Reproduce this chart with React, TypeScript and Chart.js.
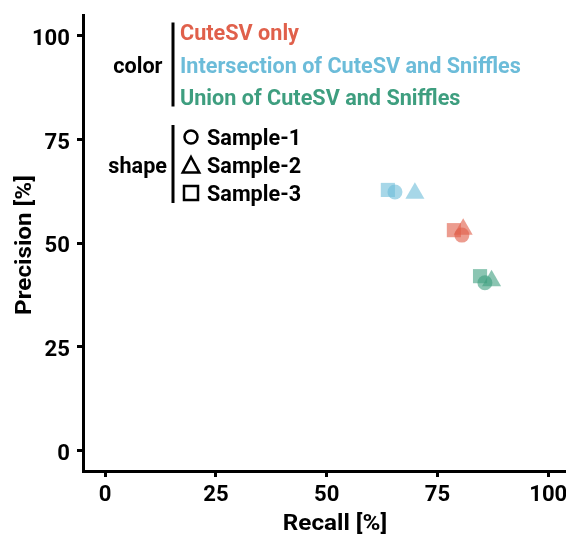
import React, { useEffect, useRef } from "react";
import { Chart, registerables } from "chart.js";

Chart.register(...registerables);

const samples = ["Sample-1", "Sample-2", "Sample-3"];
const groups = [
  "CuteSV only",
  "Intersection of CuteSV and Sniffles",
  "Union of CuteSV and Sniffles",
];
const recallCuteSV = [80.5, 80.8, 78.7];
const precisionCuteSV = [51.9, 53.3, 53.1];
const recallIntersection = [65.4, 69.9, 63.8];
const precisionIntersection = [62.3, 62.0, 62.8];
const recallUnion = [85.7, 87.2, 84.6];
const precisionUnion = [40.4, 40.9, 42.0];
const xTicks = [0, 25, 50, 75, 100];
const yTicks = [0, 25, 50, 75, 100];
const xTitle = "Recall [%]";
const yTitle = "Precision [%]";

const groupColors = ["#E0604B", "#6CBCD9", "#3E9E7F"];
const pointColors = [
  "rgba(224,96,75,0.62)",
  "rgba(108,188,217,0.6)",
  "rgba(62,158,127,0.6)",
];
const shapeStyles = ["circle", "triangle", "rect"];
const shapeRadius = [7.5, 11, 10];

const FAMILY = 'Roboto, "Liberation Sans", sans-serif';

function condense(ctx: CanvasRenderingContext2D) {
  ctx.font = `bold 22px ${FAMILY}`;
  const w = ctx.measureText("CuteSV only").width;
  return w > 0 ? 119 / w : 0.82;
}

function txt(
  ctx: CanvasRenderingContext2D,
  s: string,
  x: number,
  y: number,
  size: number,
  align: CanvasTextAlign,
  sx: number,
  color = "#000",
  rot = 0
) {
  ctx.save();
  ctx.font = `bold ${size}px ${FAMILY}`;
  ctx.fillStyle = color;
  ctx.textAlign = align;
  ctx.textBaseline = "alphabetic";
  ctx.translate(x, y);
  if (rot) ctx.rotate(rot);
  ctx.scale(sx, 1);
  ctx.fillText(s, 0, size * 0.711 * 0.5);
  ctx.restore();
}

const textPlugin = {
  id: "customText",
  afterDraw(chart: any) {
    const ctx = chart.ctx as CanvasRenderingContext2D;
    const sx = condense(ctx);
    const xs = chart.scales.x;
    const ys = chart.scales.y;
    ctx.save();
    yTicks.forEach((v) => txt(ctx, String(v), 70, ys.getPixelForValue(v) + 1.5, 22.5, "right", sx));
    xTicks.forEach((v) => txt(ctx, String(v), xs.getPixelForValue(v), 493, 22.5, "center", sx));
    txt(ctx, xTitle, 335, 522, 22, "center", sx * 1.12);
    txt(ctx, yTitle, 23, 245, 22, "center", sx * 1.12, "#000", -Math.PI / 2);
    ctx.fillStyle = "#000";
    ctx.fillRect(171.5, 22.5, 3, 84);
    ctx.fillRect(171.5, 125, 3, 78);
    txt(ctx, "color", 162.5, 65, 22, "right", sx);
    txt(ctx, "shape", 167, 165, 22, "right", sx);
    const rowsY = [32.5, 65, 97.5];
    groups.forEach((g, i) => txt(ctx, g, 180, rowsY[i], 22, "left", sx, groupColors[i]));
    const shapeY = [137, 165, 193];
    samples.forEach((s, i) => txt(ctx, s, 207, shapeY[i], 22, "left", sx));
    ctx.strokeStyle = "#000";
    ctx.lineWidth = 2.5;
    const cx = 191;
    ctx.beginPath();
    ctx.arc(cx, shapeY[0], 6.5, 0, Math.PI * 2);
    ctx.stroke();
    ctx.beginPath();
    ctx.moveTo(cx, shapeY[1] - 8);
    ctx.lineTo(cx + 8.3, shapeY[1] + 7.5);
    ctx.lineTo(cx - 8.3, shapeY[1] + 7.5);
    ctx.closePath();
    ctx.stroke();
    ctx.strokeRect(cx - 7, shapeY[2] - 7, 14, 14);
    ctx.restore();
  },
};

export default function App() {
  const ref = useRef<HTMLCanvasElement>(null);
  useEffect(() => {
    if (!ref.current) return;
    const recalls = [recallCuteSV, recallIntersection, recallUnion];
    const precisions = [precisionCuteSV, precisionIntersection, precisionUnion];
    const datasets = groups.map((g, gi) => ({
      label: g,
      data: samples.map((_, si) => ({ x: recalls[gi][si], y: precisions[gi][si] })),
      pointStyle: shapeStyles,
      pointRadius: shapeRadius,
      pointHoverRadius: shapeRadius,
      backgroundColor: pointColors[gi],
      borderColor: "rgba(0,0,0,0)",
      borderWidth: 0,
      showLine: false,
    }));
    const gridOpts = {
      display: true,
      drawOnChartArea: false,
      drawTicks: true,
      tickLength: 6,
      lineWidth: 3,
      color: "#000",
    };
    const chart = new Chart(ref.current, {
      type: "scatter",
      data: { datasets },
      plugins: [textPlugin],
      options: {
        animation: false,
        responsive: false,
        layout: { autoPadding: false, padding: { top: 15, right: 0, left: 0, bottom: 0 } },
        plugins: { legend: { display: false }, tooltip: { enabled: false } },
        scales: {
          x: {
            type: "linear",
            min: -5,
            max: 104,
            afterBuildTicks: (s: any) => {
              s.ticks = xTicks.map((v) => ({ value: v }));
            },
            afterFit: (s: any) => {
              s.height = 65;
            },
            grid: gridOpts,
            border: { display: true, width: 3, color: "#000" },
            ticks: { display: false },
          },
          y: {
            type: "linear",
            min: -5,
            max: 105,
            afterBuildTicks: (s: any) => {
              s.ticks = yTicks.map((v) => ({ value: v }));
            },
            afterFit: (s: any) => {
              s.width = 83;
            },
            grid: gridOpts,
            border: { display: true, width: 3, color: "#000" },
            ticks: { display: false },
          },
        },
      },
    });
    return () => chart.destroy();
  }, []);
  return (
    <div style={{ position: "absolute", left: 0, top: 0, width: 566, height: 536, background: "#fff" }}>
      <canvas ref={ref} width={566} height={536} style={{ display: "block" }} />
    </div>
  );
}
